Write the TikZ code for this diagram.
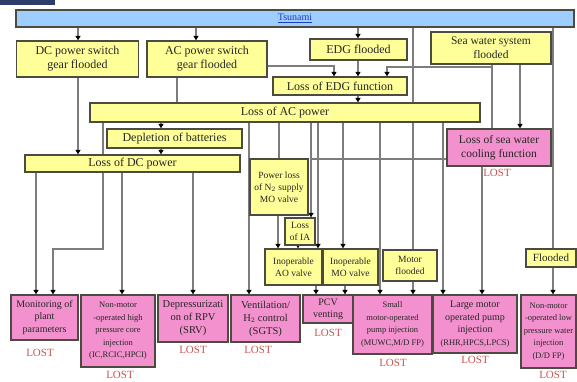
\documentclass[tikz,border=0pt]{standalone}
\usepackage{fontspec}
\setmainfont{Liberation Serif}
\usetikzlibrary{arrows.meta,backgrounds}

\definecolor{boxyellow}{RGB}{255,255,153}
\definecolor{boxpink}{RGB}{242,145,205}
\definecolor{barblue}{RGB}{158,206,255}
\definecolor{edgegray}{RGB}{75,75,65}
\definecolor{linkgray}{RGB}{125,125,125}
\definecolor{lostred}{RGB}{200,85,80}
\definecolor{logonavy}{RGB}{45,60,105}
\definecolor{tsublue}{RGB}{30,60,190}

\newcommand\fs[2]{\fontsize{#1}{#2}\selectfont}

\tikzset{
  base/.style={draw=edgegray, line width=1.3pt, inner sep=0pt, align=center, text=black!85},
  ybox/.style={base, fill=boxyellow},
  pbox/.style={base, fill=boxpink},
  link/.style={draw=linkgray, line width=1.1pt},
  arr/.style={link, -{Triangle[length=4.5pt,width=5pt,color=black]}},
  lost/.style={text=lostred, font=\fs{11}{12}},
}

\begin{document}
\begin{tikzpicture}[x=1pt,y=-1pt]
\useasboundingbox (0,0) rectangle (577,381);
\begin{scope}[on background layer]
  \fill[white] (0,0) rectangle (577,381);
\end{scope}
\fill[logonavy] (0,0) rectangle (55,5);

% top event bar
\node[base, fill=barblue, minimum width=558pt, minimum height=17pt, font=\fs{10}{11}, text=tsublue] (tsu) at (295,18.5) {\underline{Tsunami}};

% first row
\node[ybox, minimum width=122pt, minimum height=36pt, font=\fs{12}{14}] (dcsw) at (77.5,59) {DC power switch\\gear flooded};
\node[ybox, minimum width=120pt, minimum height=36pt, font=\fs{12}{14}] (acsw) at (207,59) {AC power switch\\gear flooded};
\node[ybox, minimum width=97pt, minimum height=21pt, font=\fs{12}{14}] (edgf) at (358.5,49.5) {EDG flooded};
\node[ybox, minimum width=120pt, minimum height=32pt, font=\fs{11.5}{14}] (seaf) at (491,48) {Sea water system\\flooded};

% intermediate events
\node[ybox, minimum width=134pt, minimum height=18pt, font=\fs{12}{14}] (lossedg) at (340,86) {Loss of EDG function};
\node[ybox, minimum width=390pt, minimum height=19pt, font=\fs{12}{14}] (lossac) at (285,112.5) {Loss of AC power};
\node[ybox, minimum width=135pt, minimum height=19pt, font=\fs{12}{14}] (deplete) at (174.5,138.5) {Depletion of batteries};
\node[ybox, minimum width=215pt, minimum height=17pt, font=\fs{12}{14}] (lossdc) at (132.5,163.5) {Loss of DC power};
\node[pbox, minimum width=104pt, minimum height=37pt, font=\fs{11.5}{14}] (losssw) at (499,147.5) {Loss of sea water\\cooling function};
\node[lost] (lostsw) at (497,173) {LOST};

\node[ybox, minimum width=58pt, minimum height=56pt, font=\fs{9.5}{12}] (pwrn2) at (279,187) {Power loss\\of N$_2$ supply\\MO valve};
\node[ybox, minimum width=30pt, minimum height=27pt, font=\fs{9.5}{12}] (lossia) at (300,231.5) {Loss\\of IA};
\node[ybox, minimum width=57pt, minimum height=36pt, font=\fs{9.5}{12}] (aoval) at (293.5,267) {Inoperable\\AO valve};
\node[ybox, minimum width=55pt, minimum height=36pt, font=\fs{9.5}{12}] (moval) at (350.5,267) {Inoperable\\MO valve};
\node[ybox, minimum width=54pt, minimum height=31pt, font=\fs{9.5}{12}] (motorf) at (410,265.5) {Motor\\flooded};
\node[ybox, minimum width=50pt, minimum height=18pt, font=\fs{11}{13}] (flooded) at (551,258) {Flooded};

% lost safety functions
\node[pbox, minimum width=67pt, minimum height=45pt, font=\fs{10}{12.5}] (monit) at (44.5,317.5) {Monitoring of\\plant\\parameters};
\node[pbox, minimum width=74pt, minimum height=72pt, font=\fs{8.5}{12.5}] (hpci) at (118,331) {Non-motor\\-operated high\\pressure core\\injection\\(IC,RCIC,HPCI)};
\node[pbox, minimum width=70pt, minimum height=47pt, font=\fs{10.5}{13}] (depr) at (193,318.5) {Depressurizati\\on of RPV\\(SRV)};
\node[pbox, minimum width=69pt, minimum height=47pt, font=\fs{10.5}{13}] (vent) at (265.5,318.5) {Ventilation/\\H$_2$ control\\(SGTS)};
\node[pbox, minimum width=50pt, minimum height=28pt, font=\fs{10}{12}] (pcv) at (328,309) {PCV\\venting};
\node[pbox, minimum width=79pt, minimum height=59pt, font=\fs{8.5}{12.5}] (smallp) at (392.5,324.5) {Small\\motor-operated\\pump injection\\(MUWC,M/D FP)};
\node[pbox, minimum width=84pt, minimum height=58pt, font=\fs{10}{12.5}] (largep) at (475,324) {Large motor\\operated pump\\injection\\{\fs{8.5}{12}(RHR,HPCS,LPCS)}};
\node[pbox, minimum width=55pt, minimum height=73pt, font=\fs{8.5}{12.5}] (lowp) at (548.5,331.5) {Non-motor\\-operated low\\pressure water\\injection\\(D/D FP)};

\node[lost] at (40,353) {LOST};
\node[lost] at (120,375) {LOST};
\node[lost] at (193,350) {LOST};
\node[lost] at (258,350) {LOST};
\node[lost] at (328,333) {LOST};
\node[lost] at (393,363) {LOST};
\node[lost] at (475,360) {LOST};
\node[lost] at (553,375) {LOST};

% connectors, behind the boxes
\begin{scope}[on background layer]
  \draw[arr] (78,0 |- tsu.south) -- (78,0 |- dcsw.north);
  \draw[arr] (196,0 |- tsu.south) -- (196,0 |- acsw.north);
  \draw[arr] (358,0 |- tsu.south) -- (358,0 |- edgf.north);
  \draw[link] (413,0 |- tsu.south) -- (413,0 |- motorf.north);
  \draw[link] (553,0 |- tsu.south) -- (553,0 |- flooded.north);

  \draw[arr] (acsw.east |- 0,66) -| (334,0 |- lossedg.north);
  \draw[arr] (358,0 |- edgf.south) -- (358,0 |- lossedg.north);
  \draw[link] (492,0 |- seaf.south) -- (492,0 |- losssw.north);
  \draw[arr] (492,67) -| (387,0 |- lossedg.north);
  \draw[arr] (520,0 |- seaf.south) -- (520,0 |- losssw.north);

  \draw[arr] (78,0 |- dcsw.south) -- (78,0 |- lossdc.north);
  \draw[link] (177,0 |- acsw.south) -- (177,0 |- lossac.north);
  \draw[arr] (358,0 |- lossedg.south) -- (358,0 |- lossac.north);
  \draw[arr] (161,0 |- lossac.south) -- (161,0 |- deplete.north);
  \draw[arr] (161,0 |- deplete.south) -- (161,0 |- lossdc.north);

  \draw[arr] (103,0 |- lossac.south) -- (103,249) -| (53,0 |- monit.north);
  \draw[arr] (36,0 |- lossdc.south) -- (36,0 |- monit.north);
  \draw[arr] (122,0 |- lossdc.south) -- (122,0 |- hpci.north);
  \draw[arr] (193,0 |- lossdc.south) -- (193,0 |- depr.north);
  \draw[arr] (249,0 |- lossac.south) -- (249,0 |- vent.north);

  \draw[link] (279,0 |- lossac.south) -- (279,0 |- pwrn2.north);
  \draw[arr] (311,0 |- lossac.south) -- (311,0 |- lossia.north);
  \draw[link] (losssw.west |- 0,159) -- (311,159);
  \draw[arr] (318,0 |- lossac.south) -- (318,0 |- aoval.north);
  \draw[arr] (278,0 |- pwrn2.south) -- (278,0 |- aoval.north);
  \draw[arr] (298,0 |- lossia.south) -- (298,0 |- aoval.north);
  \draw[arr] (343,0 |- lossac.south) -- (343,0 |- moval.north);
  \draw[arr] (380,0 |- lossac.south) -- (380,0 |- smallp.north);
  \draw[arr] (443,0 |- lossac.south) -- (443,0 |- largep.north);
  \draw[arr] (482,0 |- losssw.south) -- (482,0 |- largep.north);

  \draw[arr] (316,0 |- aoval.south) -- (316,0 |- pcv.north);
  \draw[arr] (345,0 |- moval.south) -- (345,0 |- pcv.north);
  \draw[arr] (413,0 |- motorf.south) -- (413,0 |- smallp.north);
  \draw[arr] (553,0 |- flooded.south) -- (553,0 |- lowp.north);
\end{scope}
\end{tikzpicture}
\end{document}
